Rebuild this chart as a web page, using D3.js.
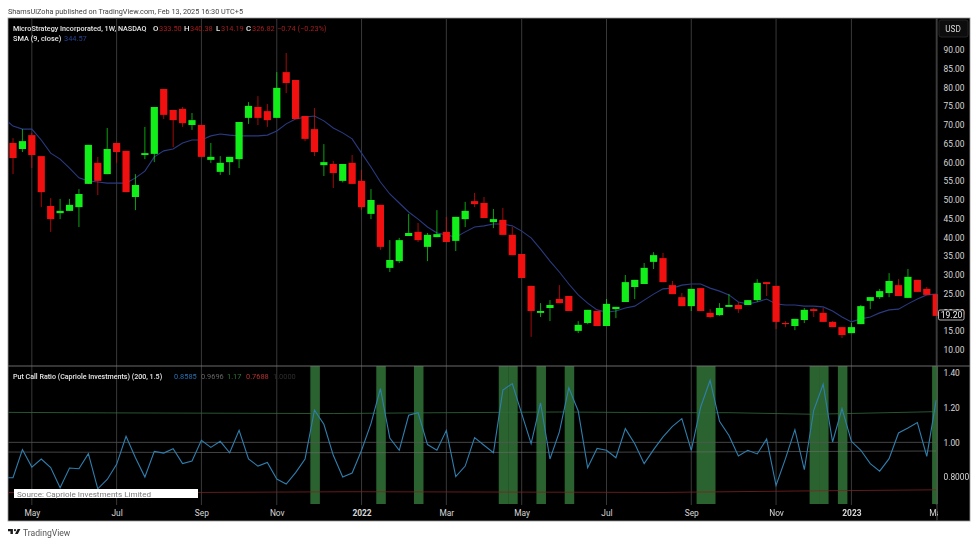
<!DOCTYPE html>
<html>
<head>
<meta charset="utf-8">
<script src="https://cdn.jsdelivr.net/npm/d3@7"></script>
<style>
  html, body { margin: 0; padding: 0; background: #fff; overflow: hidden; }
  svg { display: block; filter: blur(0.35px); }
  text { font-family: Roboto, "Liberation Sans", sans-serif; }
</style>
</head>
<body>
<script>
// weekly MSTR candles
var opens = [65.2,63.6,67.3,61.7,48.4,46.5,47.1,48.1,54.3,59.9,56.9,65.2,63.1,50.8,62.0,62.3,79.6,74.0,74.3,70.0,70.0,60.7,57.5,60.1,60.9,71.9,74.8,73.7,71.9,84.1,82.0,72.4,68.9,59.3,59.6,55.1,59.9,55.1,46.3,48.7,31.9,33.7,40.4,41.5,37.5,40.1,41.5,39.1,44.9,49.7,49.2,44.1,44.7,40.7,35.6,27.1,19.9,21.2,23.6,24.4,15.1,17.2,20.4,16.4,20.9,22.8,26.8,27.6,33.5,34.5,27.3,24.1,21.7,26.5,19.9,19.3,21.5,22.0,22.0,23.3,28.1,27.1,17.2,16.4,18.0,20.9,19.9,17.5,16.1,14.5,16.9,23.1,24.1,25.2,27.3,23.9,28.7,26.3,24.9];
var highs = [66.5,68.9,67.9,61.7,50.5,50.3,50.3,52.9,64.7,61.5,69.2,65.2,63.1,56.9,69.5,74.8,79.6,74.0,74.8,73.2,70.0,65.2,61.7,61.5,70.8,76.1,77.7,75.6,84.1,89.2,82.0,72.4,74.5,64.9,60.4,59.6,62.0,58.0,52.9,48.7,39.3,39.9,46.3,43.9,41.2,47.3,45.5,45.5,49.5,51.9,50.8,47.6,47.9,42.8,35.6,27.1,22.5,23.3,27.3,24.4,17.7,20.7,20.4,23.6,21.5,30.0,28.7,33.2,36.1,35.9,28.4,25.2,26.3,26.5,20.9,22.5,24.9,22.8,23.3,28.9,28.1,27.1,17.7,18.3,21.2,21.2,21.2,17.7,16.1,17.2,22.0,24.1,26.3,30.5,28.9,31.6,28.7,26.8,24.9];
var lows = [56.9,62.8,58.5,48.1,41.5,44.9,47.1,42.8,54.3,51.3,56.9,59.9,52.1,47.3,60.9,60.1,71.6,64.1,69.5,68.7,61.5,59.9,56.7,56.7,58.5,70.3,70.0,69.5,71.9,78.5,71.6,65.7,61.7,56.4,53.2,54.7,54.3,47.3,44.9,36.7,30.8,33.2,40.4,38.8,33.7,40.1,38.8,36.4,42.8,48.1,45.2,42.5,40.7,35.3,29.2,13.5,18.8,17.7,22.5,20.4,14.5,16.9,16.4,16.4,18.5,22.8,23.6,27.6,31.6,28.1,24.9,21.7,20.4,20.4,18.5,19.1,21.5,19.9,22.0,22.8,24.4,15.6,16.1,15.3,17.2,18.8,17.5,16.1,13.2,14.5,16.9,20.9,23.6,24.1,24.4,23.9,25.5,24.7,19.1];
var closes = [61.2,65.7,62.0,52.1,44.9,47.1,48.7,51.6,64.7,55.1,63.6,62.8,52.1,54.0,62.5,74.8,72.7,71.3,70.5,71.3,61.5,61.5,59.9,61.5,70.8,75.1,71.9,71.3,79.9,81.2,71.6,66.3,62.8,60.1,57.2,59.6,54.3,48.1,50.0,37.5,34.0,39.3,41.2,39.3,40.7,40.9,38.8,45.5,47.1,48.9,45.2,44.9,40.7,35.3,29.2,20.4,20.4,22.0,22.5,20.4,16.7,20.7,16.4,22.3,21.5,28.1,28.7,31.9,35.3,28.1,24.9,21.7,26.3,20.4,18.8,21.2,22.0,20.9,23.3,27.9,27.6,17.5,16.9,18.3,20.7,20.4,17.5,16.1,14.0,16.1,21.7,24.1,25.7,28.4,24.4,29.5,25.5,24.7,19.1];

// first value sits one week left of the first candle
var smaValues = [71.9,69.7,68.9,68.9,66.0,62.5,60.9,58.5,55.9,55.1,54.8,54.5,54.5,54.5,55.9,57.7,61.5,63.1,63.6,65.2,66.0,66.0,67.1,67.6,67.3,67.1,67.1,67.1,67.3,68.4,70.3,71.6,72.1,72.4,71.1,69.2,67.9,66.3,62.5,58.8,54.8,51.6,49.2,46.8,44.9,42.8,41.2,40.7,40.1,41.5,42.8,43.1,43.6,43.6,43.1,41.7,39.9,36.9,33.7,30.8,27.6,24.7,22.5,20.7,20.1,20.4,21.2,21.7,23.3,24.9,26.3,26.5,27.3,27.6,27.6,26.5,25.7,24.7,22.8,22.3,22.8,23.6,22.3,22.0,22.0,21.7,21.7,21.5,20.4,18.8,17.5,18.3,18.8,19.9,20.7,20.9,22.3,23.6,24.7,24.9];

var ratioValues = [0.796,0.796,0.958,0.857,0.904,0.854,0.738,0.852,0.848,0.935,0.732,0.786,0.873,1.035,0.911,0.800,0.948,0.938,0.963,0.877,0.892,1.012,0.971,1.006,0.940,1.069,0.904,0.863,0.884,0.788,0.759,0.825,0.904,1.185,1.104,0.925,0.800,0.823,0.954,1.108,1.310,1.025,0.954,1.156,1.171,0.987,0.954,1.069,0.802,0.863,1.027,0.983,0.940,1.301,1.339,1.166,0.992,1.227,0.904,1.060,1.314,1.181,0.854,0.965,0.954,0.911,1.079,0.992,0.877,0.958,1.031,1.092,1.137,0.954,1.204,1.358,1.121,1.040,0.921,0.954,0.933,1.019,0.751,0.906,1.073,0.842,1.185,1.335,1.002,1.195,1.006,0.954,0.877,0.834,0.906,1.054,1.083,1.114,0.919,1.243];
var signalWeeks = [32,39,43,52,53,56,59,73,74,85,86,88,98];

var upperWeeks = [-1,10,34,43,58,69,76,85,98];
var upperValues = [1.173,1.170,1.166,1.170,1.175,1.171,1.171,1.162,1.177];
var meanWeeks = [-1,34,69,98];
var meanValues = [0.944,0.940,0.944,0.950];
var lowerWeeks = [-1,20,36,69,83,98];
var lowerValues = [0.711,0.711,0.715,0.711,0.719,0.726];

var priceTicks = [90,85,80,75,70,65,60,55,50,45,40,35,30,25,20,15,10];
var ratioTicks = [1.4,1.2,1.0,0.8];
var timeWeeks = [2,11,20,28,37,46,54,63,72,81,89,98];
var timeLabels = ["May","Jul","Sep","Nov","2022","Mar","May","Jul","Sep","Nov","2023","Mar"];

var svg = d3.select("body").append("svg").attr("width", 979).attr("height", 545);

var plotLeft = 8, plotRight = 937, plotTop = 18, paneSplit = 366, paneBottom = 505, frameRight = 970, frameBottom = 521;

var x = d3.scaleLinear().domain([0, 98]).range([13, 936.2]);
var yPrice = d3.scaleLinear().domain([10, 90]).range([350, 50]);
var yRatio = d3.scaleLinear().domain([0.8, 1.4]).range([477, 373]);

var green = "#12ee1a", red = "#f01010";

// frame
svg.append("rect").attr("x", plotLeft).attr("y", plotTop)
    .attr("width", frameRight - plotLeft).attr("height", frameBottom - plotTop)
    .attr("fill", "#000").attr("stroke", "#9a9a9a").attr("stroke-width", 0.8);

var defs = svg.append("defs");
defs.append("clipPath").attr("id", "mainClip").append("rect")
    .attr("x", plotLeft).attr("y", plotTop).attr("width", plotRight - plotLeft + 1).attr("height", paneSplit - plotTop);
defs.append("clipPath").attr("id", "ratioClip").append("rect")
    .attr("x", plotLeft).attr("y", paneSplit).attr("width", plotRight - plotLeft + 1).attr("height", paneBottom - paneSplit);
defs.append("clipPath").attr("id", "timeClip").append("rect")
    .attr("x", plotLeft).attr("y", paneBottom).attr("width", plotRight - plotLeft + 1).attr("height", frameBottom - paneBottom);

// vertical grid through both panes
svg.append("g").selectAll("line").data(timeWeeks).enter().append("line")
    .attr("x1", function(d) { return x(d); })
    .attr("x2", function(d) { return x(d); })
    .attr("y1", plotTop).attr("y2", paneBottom)
    .attr("stroke", "#3f3f3f").attr("stroke-width", 0.9);

// price pane
var main = svg.append("g").attr("clip-path", "url(#mainClip)");
var weeks = d3.range(opens.length);

main.append("path")
    .attr("d", d3.line().x(function(d, i) { return x(i - 1); }).y(function(d) { return yPrice(d); })(smaValues))
    .attr("fill", "none").attr("stroke", "#2a3a80").attr("stroke-width", 1.1);

function candleColor(i) { return closes[i] >= opens[i] ? green : red; }

main.append("g").selectAll("line").data(weeks).enter().append("line")
    .attr("x1", function(i) { return x(i); })
    .attr("x2", function(i) { return x(i); })
    .attr("y1", function(i) { return yPrice(highs[i]); })
    .attr("y2", function(i) { return yPrice(lows[i]); })
    .attr("stroke", candleColor).attr("stroke-width", 0.9).attr("stroke-opacity", 0.75);

main.append("g").selectAll("rect").data(weeks).enter().append("rect")
    .attr("x", function(i) { return x(i) - 3.6; })
    .attr("width", 7.2)
    .attr("y", function(i) { return yPrice(Math.max(opens[i], closes[i])); })
    .attr("height", function(i) { return Math.max(1, Math.abs(yPrice(opens[i]) - yPrice(closes[i]))); })
    .attr("fill", candleColor);

// indicator pane
var ratioPane = svg.append("g").attr("clip-path", "url(#ratioClip)");

ratioPane.append("g").selectAll("rect").data(signalWeeks).enter().append("rect")
    .attr("x", function(d) { return x(d - 0.5) + 0.6; })
    .attr("width", x(1) - x(0) + 0.1)
    .attr("y", paneSplit).attr("height", paneBottom - paneSplit - 1)
    .attr("fill", "#2b6330");

function bandLine(wks, vals, color, op) {
  ratioPane.append("path")
      .attr("d", d3.line().x(function(d, i) { return x(wks[i]); }).y(function(d) { return yRatio(d); })(vals))
      .attr("fill", "none").attr("stroke", color).attr("stroke-width", 0.9).attr("stroke-opacity", op);
}
bandLine(upperWeeks, upperValues, "#2f6b3c", 0.9);
bandLine(meanWeeks, meanValues, "#6a6a6a", 0.7);
bandLine(lowerWeeks, lowerValues, "#7a2222", 0.9);
bandLine([-1, 98], [1, 1], "#555", 0.9);

ratioPane.append("path")
    .attr("d", d3.line().x(function(d, i) { return x(i - 1); }).y(function(d) { return yRatio(d); })(ratioValues))
    .attr("fill", "none").attr("stroke", "#2f7fae").attr("stroke-width", 1.1);

// separators
svg.append("line").attr("x1", plotLeft).attr("x2", frameRight).attr("y1", paneSplit).attr("y2", paneSplit)
    .attr("stroke", "#777").attr("stroke-width", 0.9);
svg.append("line").attr("x1", plotRight).attr("x2", plotRight).attr("y1", plotTop).attr("y2", frameBottom)
    .attr("stroke", "#555").attr("stroke-width", 0.9);

// axes
function styleAxis(g) {
  g.select(".domain").remove();
  g.selectAll("text").attr("fill", "#d8d8d8").style("font-size", "8.4px");
}

svg.append("g").attr("transform", "translate(943.5,0)")
    .call(d3.axisRight(yPrice).tickValues(priceTicks).tickSize(0).tickPadding(0).tickFormat(d3.format(".2f")))
    .call(styleAxis);

svg.append("g").attr("transform", "translate(943.5,0)")
    .call(d3.axisRight(yRatio).tickValues(ratioTicks).tickSize(0).tickPadding(0)
        .tickFormat(function(d) { return d < 1 ? d3.format(".4f")(d) : d3.format(".2f")(d); }))
    .call(styleAxis);

svg.append("g").attr("clip-path", "url(#timeClip)")
  .append("g").attr("transform", "translate(0,510)")
    .call(d3.axisBottom(x).tickValues(timeWeeks).tickSize(0).tickPadding(0)
        .tickFormat(function(d, i) { return timeLabels[i]; }))
    .call(styleAxis)
    .selectAll("text").style("font-weight", function(d, i) { return /^20/.test(timeLabels[i]) ? "700" : "400"; });

// USD button
svg.append("rect").attr("x", 939).attr("y", 20).attr("width", 29).attr("height", 17).attr("rx", 2)
    .attr("fill", "#0d0d0d").attr("stroke", "#2c2c2c").attr("stroke-width", 0.8);
label("USD", 953, 31.5, "#d8d8d8", 8.2, "middle");

// last price tag
svg.append("rect").attr("x", 938.5).attr("y", 310).attr("width", 25.5).attr("height", 10).attr("rx", 1.5)
    .attr("fill", "#000").attr("stroke", "#ddd").attr("stroke-width", 0.8);
label("19.20", 951.5, 318.2, "#f0f0f0", 8.6, "middle");

function label(str, px, py, color, size, anchor, weight) {
  svg.append("text").attr("x", px).attr("y", py).attr("fill", color)
      .attr("text-anchor", anchor || "start")
      .style("font-size", size + "px").style("font-weight", weight || 400).text(str);
}

// legends
var head = "#e6e6e6", dimRed = "#a81c1c";
label("MicroStrategy Incorporated, 1W, NASDAQ", 13, 30.5, head, 7.2, "start", 500);
label("O", 153, 30.5, head, 7.8, "start", 500);
label("333.50", 159, 30.5, dimRed, 7.4);
label("H", 184, 30.5, head, 7.8, "start", 500);
label("340.38", 190, 30.5, dimRed, 7.4);
label("L", 216, 30.5, head, 7.8, "start", 500);
label("314.19", 221, 30.5, dimRed, 7.4);
label("C", 246, 30.5, head, 7.8, "start", 500);
label("326.82", 252, 30.5, dimRed, 7.4);
label("\u22120.74 (\u22120.23%)", 277, 30.5, dimRed, 7.4);
label("SMA (9, close)", 13, 41, head, 7.4, "start", 500);
label("344.57", 64, 41, "#27408f", 7.4);

label("Put Call Ratio (Capriole Investments) (200, 1.5)", 13, 378.5, head, 7.1, "start", 500);
label("0.8585", 174, 378.5, "#2a6fb0", 7.4);
label("0.9696", 201, 378.5, "#666", 7.4);
label("1.17", 227, 378.5, "#2f7a3c", 7.4);
label("0.7688", 246, 378.5, "#b53030", 7.4);
label("1.0000", 273, 378.5, "#2e2e2e", 7.4);

// source note over the indicator pane
svg.append("rect").attr("x", 14).attr("y", 489).attr("width", 184).attr("height", 9).attr("fill", "#fff");
label("Source: Capriole Investments Limited", 17, 496.6, "#7a7a7a", 8.1);

// publisher line and logo
label("ShamsUlZoha published on TradingView.com, Feb 13, 2025 16:30 UTC+5", 8, 14, "#444", 7.3);
var logo = svg.append("g").attr("transform", "translate(8,527) scale(0.35)").attr("fill", "#1a1a1a");
logo.append("path").attr("d", "M14 6H0v6h7v8h7V6Zm14 14h-8l7.5-14h8L28 20Z");
logo.append("circle").attr("cx", 20).attr("cy", 9).attr("r", 3);
label("TradingView", 23, 535.5, "#555", 8.6);
</script>
</body>
</html>
